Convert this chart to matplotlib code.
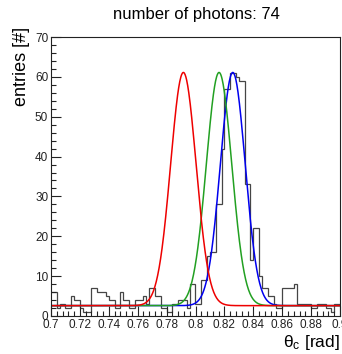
import numpy as np
import matplotlib
matplotlib.use("Agg")
import matplotlib.pyplot as plt
from matplotlib.ticker import MultipleLocator

plt.rcParams['font.family'] = ['Liberation Sans', 'DejaVu Sans']
plt.rcParams['mathtext.fontset'] = 'custom'
plt.rcParams['mathtext.rm'] = 'Liberation Sans'
plt.rcParams['mathtext.it'] = 'Liberation Sans'

# ---- data ----
x_min, x_max, n_bins = 0.70, 0.90, 100
counts = [6, 6, 2, 3, 3, 2, 2, 5, 4, 4,
          2, 1, 1, 1, 7, 7, 6, 6, 6, 5,
          4, 4, 2, 2, 6, 4, 4, 2, 2, 4,
          4, 4, 5, 3, 7, 7, 5, 5, 2, 2,
          1, 1, 3, 3, 4, 4, 4, 2, 8, 8,
          3, 3, 9, 9, 15, 16, 16, 28, 28, 42,
          57, 57, 61, 61, 60, 59, 59, 33, 33, 14,
          22, 22, 10, 7, 7, 5, 5, 3, 2, 2,
          7, 7, 7, 7, 8, 3, 3, 3, 3, 3,
          2, 2, 3, 3, 3, 2, 2, 1, 3, 3]

# Gaussian + constant curves: (mean, sigma, amplitude, baseline)
curve_names = ["blue", "green", "red"]
curve_means = [0.8258, 0.8163, 0.7916]
curve_sigmas = [0.0086, 0.0088, 0.0088]
curve_amps = [58.5, 58.5, 58.5]
curve_bases = [2.6, 2.6, 2.6]
curve_colors = ["#0000ee", "#22a022", "#ee0000"]

title = "number of photons: 74"
x_title = r"$\mathrm{\theta_{c}}$ [rad]"
y_title = "entries [#]"
x_tick_values = [0.70, 0.72, 0.74, 0.76, 0.78, 0.80, 0.82, 0.84, 0.86, 0.88, 0.90]
x_tick_labels = ["0.7", "0.72", "0.74", "0.76", "0.78", "0.8", "0.82", "0.84", "0.86", "0.88", "0.9"]

# ---- figure ----
W, H = 342, 354
fig = plt.figure(figsize=(W / 100, H / 100), dpi=100)
ax = fig.add_axes([51 / W, 38 / H, 289 / W, 279 / H])

edges = np.linspace(x_min, x_max, n_bins + 1)
ax.stairs(counts, edges, color="#454545", lw=0.9, baseline=None)

xs = np.linspace(x_min, x_max, 800)
for m, s, a, b, c in zip(curve_means, curve_sigmas, curve_amps, curve_bases, curve_colors):
    ax.plot(xs, b + a * np.exp(-0.5 * ((xs - m) / s) ** 2), color=c, lw=1.1)

ax.set_xlim(x_min, x_max)
ax.set_ylim(0, 70)
ax.set_xticks(x_tick_values)
ax.set_xticklabels(x_tick_labels)
ax.xaxis.set_minor_locator(MultipleLocator(0.004))
ax.yaxis.set_major_locator(MultipleLocator(10))
ax.yaxis.set_minor_locator(MultipleLocator(2))
ax.tick_params(which='both', direction='in', top=False, right=False,
               colors='#222222', labelsize=8.5, width=0.8)
ax.tick_params(which='major', length=7, pad=2)
ax.tick_params(which='minor', length=3.5)
for sp in ax.spines.values():
    sp.set_color('#222222')
    sp.set_linewidth(0.8)

fig.text(196 / W, 1 - 14 / H, title, ha='center', va='center', fontsize=12)
fig.text(21 / W, 1 - 27 / H, y_title, ha='center', va='top', rotation=90, fontsize=13)
fig.text(340 / W, 1 - 342 / H, x_title, ha='right', va='center', fontsize=12.5)

fig.savefig("out.png", dpi=100)
